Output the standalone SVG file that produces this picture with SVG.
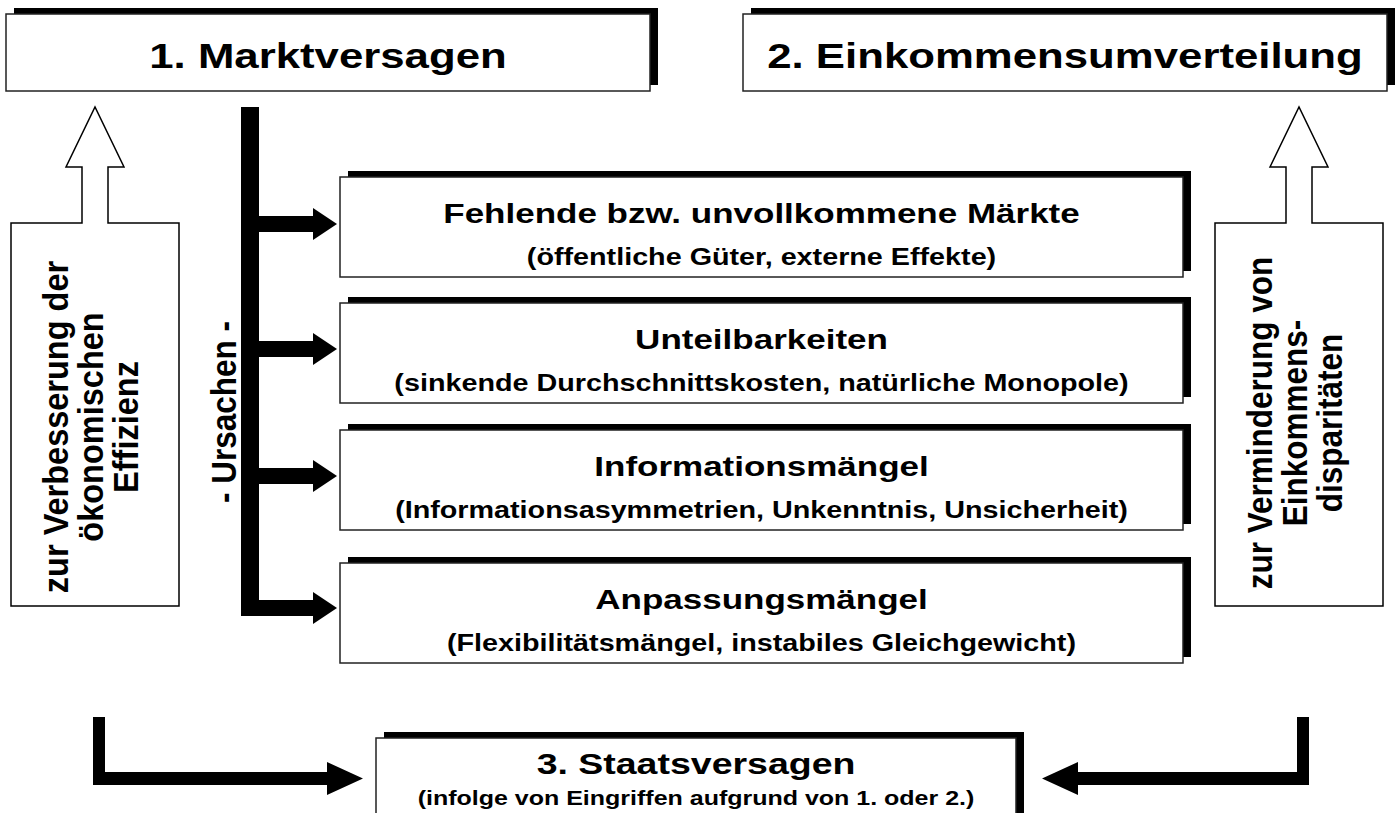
<svg xmlns="http://www.w3.org/2000/svg" width="1398" height="813" viewBox="0 0 1398 813">
<style>
.shadow{fill:#000}
.box{fill:#fff;stroke:#222;stroke-width:1.5}
.outline{fill:#fff;stroke:#000;stroke-width:1.5;stroke-linejoin:miter}
.t{font-family:"Liberation Sans",Arial,sans-serif;font-weight:bold;fill:#000;text-anchor:middle}
.big{font-size:35px}
.mid{font-size:28px}
.small{font-size:23px}
.b3{font-size:30px}
.s3{font-size:20px}
.vert{font-size:31.5px}
.vertL{font-size:32.5px}
.conn{fill:#000}
</style>
<rect width="1398" height="813" fill="#fff"/>

<g id="box1">
<rect class="shadow" x="14" y="8" width="644" height="77"/>
<rect class="box" x="6" y="14" width="644" height="77"/>
<text class="t big" transform="translate(328,68) scale(1.25,1)">1. Marktversagen</text>
</g>

<g id="box2">
<rect class="shadow" x="751" y="8" width="644" height="77"/>
<rect class="box" x="743" y="14" width="644" height="77"/>
<text class="t big" transform="translate(1065,68) scale(1.25,1)">2. Einkommensumverteilung</text>
</g>

<g id="efficiency">
<polygon class="outline" points="11,223 82,223 82,167 66,167 95,107 124,167 108,167 108,223 179,223 179,606 11,606"/>
<text class="t vertL" transform="translate(68,427) scale(1.1,1) rotate(-90)">zur Verbesserung der</text>
<text class="t vertL" transform="translate(103,427) scale(1.1,1) rotate(-90)">ökonomischen</text>
<text class="t vertL" transform="translate(138,427) scale(1.1,1) rotate(-90)">Effizienz</text>
</g>

<g id="disparity">
<polygon class="outline" points="1215,223 1286,223 1286,167 1270,167 1299,107 1328,167 1312,167 1312,223 1383,223 1383,606 1215,606"/>
<text class="t vert" transform="translate(1272,423) scale(1.1,1) rotate(-90)">zur Verminderung von</text>
<text class="t vert" transform="translate(1307,423) scale(1.1,1) rotate(-90)">Einkommens-</text>
<text class="t vert" transform="translate(1342,423) scale(1.1,1) rotate(-90)">disparitäten</text>
</g>

<g id="ursachen">
<text class="t vert" transform="translate(236,412) scale(1.1,1) rotate(-90)">- Ursachen -</text>
</g>

<g id="causeA">
<rect class="shadow" x="348" y="171" width="843" height="100"/>
<rect class="box" x="340" y="177" width="843" height="100"/>
<text class="t mid" transform="translate(761.5,223) scale(1.25,1)">Fehlende bzw. unvollkommene Märkte</text>
<text class="t small" transform="translate(761.5,265) scale(1.25,1)">(öffentliche Güter, externe Effekte)</text>
</g>

<g id="causeB">
<rect class="shadow" x="348" y="297" width="843" height="100"/>
<rect class="box" x="340" y="303" width="843" height="100"/>
<text class="t mid" transform="translate(761.5,349) scale(1.25,1)">Unteilbarkeiten</text>
<text class="t small" transform="translate(761.5,391) scale(1.25,1)">(sinkende Durchschnittskosten, natürliche Monopole)</text>
</g>

<g id="causeC">
<rect class="shadow" x="348" y="424" width="843" height="100"/>
<rect class="box" x="340" y="430" width="843" height="100"/>
<text class="t mid" transform="translate(761.5,476) scale(1.25,1)">Informationsmängel</text>
<text class="t small" transform="translate(761.5,518) scale(1.25,1)">(Informationsasymmetrien, Unkenntnis, Unsicherheit)</text>
</g>

<g id="causeD">
<rect class="shadow" x="348" y="557" width="843" height="100"/>
<rect class="box" x="340" y="563" width="843" height="100"/>
<text class="t mid" transform="translate(761.5,609) scale(1.25,1)">Anpassungsmängel</text>
<text class="t small" transform="translate(761.5,651) scale(1.25,1)">(Flexibilitätsmängel, instabiles Gleichgewicht)</text>
</g>

<g id="box3">
<rect class="shadow" x="384" y="732" width="640" height="100"/>
<rect class="box" x="376" y="738" width="640" height="100"/>
<text class="t b3" transform="translate(696,774) scale(1.25,1)">3. Staatsversagen</text>
<text class="t s3" transform="translate(696,805) scale(1.25,1)">(infolge von Eingriffen aufgrund von 1. oder 2.)</text>
</g>

<g id="connectors">
<rect class="conn" x="241" y="107" width="18" height="509"/>
<polygon class="conn" points="259,216 313,216 313,208 337,224 313,240 313,232 259,232"/>
<polygon class="conn" points="259,341 313,341 313,333 337,349 313,365 313,357 259,357"/>
<polygon class="conn" points="259,468 313,468 313,460 337,476 313,492 313,484 259,484"/>
<polygon class="conn" points="259,600 313,600 313,592 337,608 313,624 313,616 259,616"/>
<polygon class="conn" points="93,717 105,717 105,772 327,772 327,762 363,778.5 327,795 327,785 93,785"/>
<polygon class="conn" points="1309,717 1297,717 1297,772 1078,772 1078,762 1042,778.5 1078,795 1078,785 1309,785"/>
</g>
</svg>
